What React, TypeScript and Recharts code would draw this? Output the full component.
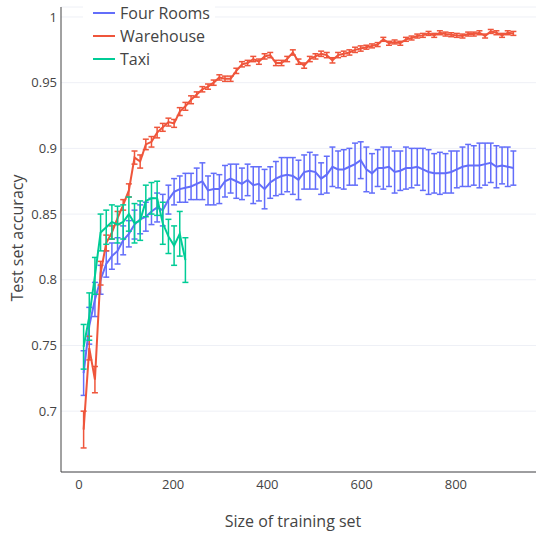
import { LineChart, Line, XAxis, YAxis, CartesianGrid, ErrorBar } from 'recharts';

// training set sizes shared by all three environments
const sizes = [
  10, 22, 34, 46, 58, 70, 82, 94, 106, 118, 130, 142, 154, 166, 178, 190, 202, 214, 226, 238,
  250, 262, 274, 286, 298, 310, 322, 334, 346, 358, 370, 382, 394, 406, 418, 430, 442, 454, 466, 478,
  490, 502, 514, 526, 538, 550, 562, 574, 586, 598, 610, 622, 634, 646, 658, 670, 682, 694, 706, 718,
  730, 742, 754, 766, 778, 790, 802, 814, 826, 838, 850, 862, 874, 886, 898, 910, 922,
];

const fourRoomsAcc = [
  0.729, 0.765, 0.785, 0.8, 0.812, 0.818, 0.822, 0.83, 0.835, 0.842, 0.846, 0.848, 0.852, 0.855, 0.853, 0.861, 0.867, 0.869, 0.87, 0.871,
  0.873, 0.875, 0.868, 0.869, 0.869, 0.875, 0.877, 0.875, 0.873, 0.876, 0.872, 0.873, 0.869, 0.874, 0.877, 0.879, 0.88, 0.879, 0.876, 0.882,
  0.883, 0.882, 0.877, 0.88, 0.886, 0.884, 0.884, 0.886, 0.888, 0.891, 0.884, 0.881, 0.885, 0.885, 0.886, 0.882, 0.883, 0.885, 0.885, 0.886,
  0.884, 0.882, 0.881, 0.881, 0.881, 0.882, 0.884, 0.886, 0.887, 0.887, 0.887, 0.888, 0.889, 0.886, 0.887, 0.886, 0.885,
];
const fourRoomsErr = [
  0.017, 0.014, 0.013, 0.011, 0.01, 0.01, 0.01, 0.011, 0.01, 0.011, 0.011, 0.011, 0.01, 0.011, 0.012, 0.011, 0.01, 0.01, 0.011, 0.01,
  0.012, 0.014, 0.011, 0.012, 0.011, 0.012, 0.011, 0.013, 0.012, 0.012, 0.014, 0.013, 0.015, 0.012, 0.013, 0.014, 0.013, 0.014, 0.015, 0.013,
  0.014, 0.013, 0.012, 0.014, 0.015, 0.014, 0.015, 0.014, 0.016, 0.014, 0.017, 0.015, 0.014, 0.016, 0.015, 0.016, 0.015, 0.016, 0.015, 0.014,
  0.016, 0.017, 0.015, 0.016, 0.015, 0.016, 0.014, 0.015, 0.016, 0.015, 0.017, 0.016, 0.015, 0.016, 0.014, 0.015, 0.013,
];

const warehouseAcc = [
  0.686, 0.748, 0.724, 0.805, 0.828, 0.836, 0.847, 0.857, 0.868, 0.893, 0.89, 0.903, 0.905, 0.912, 0.916, 0.92, 0.919, 0.928, 0.932, 0.937,
  0.941, 0.945, 0.947, 0.95, 0.954, 0.953, 0.953, 0.959, 0.964, 0.965, 0.968, 0.966, 0.97, 0.971, 0.965, 0.965, 0.968, 0.973, 0.966, 0.963,
  0.968, 0.97, 0.972, 0.971, 0.967, 0.971, 0.972, 0.973, 0.975, 0.976, 0.977, 0.978, 0.979, 0.983, 0.98, 0.981, 0.98, 0.983, 0.984, 0.9855,
  0.986, 0.9875, 0.986, 0.988, 0.987, 0.9865, 0.986, 0.9855, 0.987, 0.987, 0.988, 0.9855, 0.989, 0.988, 0.986, 0.988, 0.9875,
];
const warehouseErr = [
  0.014, 0.009, 0.01, 0.009, 0.006, 0.005, 0.005, 0.004, 0.005, 0.005, 0.005, 0.004, 0.004, 0.004, 0.003, 0.003, 0.003, 0.003, 0.003, 0.003,
  0.002, 0.002, 0.002, 0.002, 0.002, 0.002, 0.002, 0.002, 0.002, 0.002, 0.002, 0.002, 0.002, 0.002, 0.002, 0.002, 0.002, 0.002, 0.002, 0.002,
  0.002, 0.002, 0.002, 0.002, 0.002, 0.002, 0.002, 0.002, 0.002, 0.002, 0.0015, 0.0015, 0.0015, 0.0015, 0.0015, 0.0015, 0.0015, 0.0015, 0.0015, 0.0015,
  0.0015, 0.0015, 0.0015, 0.0015, 0.0015, 0.0015, 0.0015, 0.0015, 0.0015, 0.0015, 0.0015, 0.0015, 0.0015, 0.0015, 0.0015, 0.0015, 0.0015,
];

const taxiAcc = [
  0.749, 0.772, 0.803, 0.836, 0.84, 0.844, 0.842, 0.844, 0.85, 0.843, 0.845, 0.86, 0.862, 0.862, 0.843, 0.833, 0.826, 0.835, 0.815,
];
const taxiErr = [
  0.017, 0.018, 0.014, 0.014, 0.013, 0.013, 0.014, 0.013, 0.013, 0.015, 0.015, 0.012, 0.012, 0.013, 0.016, 0.013, 0.015, 0.017, 0.017,
];

const xTicks = [0, 200, 400, 600, 800];
const yTicks = [0.7, 0.75, 0.8, 0.85, 0.9, 0.95, 1];

const series = [
  { name: 'Four Rooms', color: '#636efa', acc: fourRoomsAcc, err: fourRoomsErr },
  { name: 'Warehouse', color: '#ef553b', acc: warehouseAcc, err: warehouseErr },
  { name: 'Taxi', color: '#00cc96', acc: taxiAcc, err: taxiErr },
];

const rows = (acc: number[], err: number[]) => acc.map((y, i) => ({ x: sizes[i], y, e: err[i] }));

const font = '"Open Sans", sans-serif';
const tickStyle = { fontSize: 13, fill: '#444', fontFamily: font };

export default function App() {
  return (
    <div style={{ position: 'absolute', left: 0, top: 0, width: 536, height: 533, fontFamily: font }}>
      <LineChart width={536} height={533} margin={{ top: 7, right: 0, bottom: 0, left: 0 }}>
        <CartesianGrid vertical={false} stroke="#eef0f6" />
        <XAxis
          type="number"
          dataKey="x"
          domain={[-38, 970]}
          ticks={xTicks}
          height={61}
          tickLine={false}
          tickSize={0}
          tickMargin={8}
          tick={tickStyle}
          stroke="#444"
          allowDataOverflow
          label={{
            content: () => (
              <text x={293} y={521} textAnchor="middle" dominantBaseline="central" fontSize={16} fill="#444" fontFamily={font}>
                Size of training set
              </text>
            ),
          }}
        />
        <YAxis
          type="number"
          domain={[0.6537, 1.0076]}
          ticks={yTicks}
          width={61}
          tickLine={false}
          tickSize={0}
          tickMargin={4}
          tick={tickStyle}
          stroke="#444"
          allowDataOverflow
          label={{
            content: () => (
              <text
                x={17}
                y={238}
                transform="rotate(-90 17 238)"
                textAnchor="middle"
                dominantBaseline="central"
                fontSize={16}
                fill="#444"
                fontFamily={font}
              >
                Test set accuracy
              </text>
            ),
          }}
        />
        {series.map((s) => (
          <Line
            key={s.name}
            name={s.name}
            data={rows(s.acc, s.err)}
            dataKey="y"
            stroke={s.color}
            strokeWidth={2}
            dot={false}
            isAnimationActive={false}
          >
            <ErrorBar dataKey="e" direction="y" width={3} stroke={s.color} strokeWidth={1.5} isAnimationActive={false} />
          </Line>
        ))}
      </LineChart>
      <div
        style={{
          position: 'absolute',
          left: 83,
          top: 0,
          width: 132,
          height: 72,
          background: '#fff',
        }}
      >
        {series.map((s, i) => (
          <div
            key={s.name}
            style={{ position: 'absolute', left: 10, top: 2 + i * 23, height: 22, display: 'flex', alignItems: 'center' }}
          >
            <span style={{ display: 'inline-block', width: 22, height: 2, background: s.color }} />
            <span style={{ marginLeft: 5, fontSize: 16, color: '#444', whiteSpace: 'nowrap' }}>{s.name}</span>
          </div>
        ))}
      </div>
    </div>
  );
}
